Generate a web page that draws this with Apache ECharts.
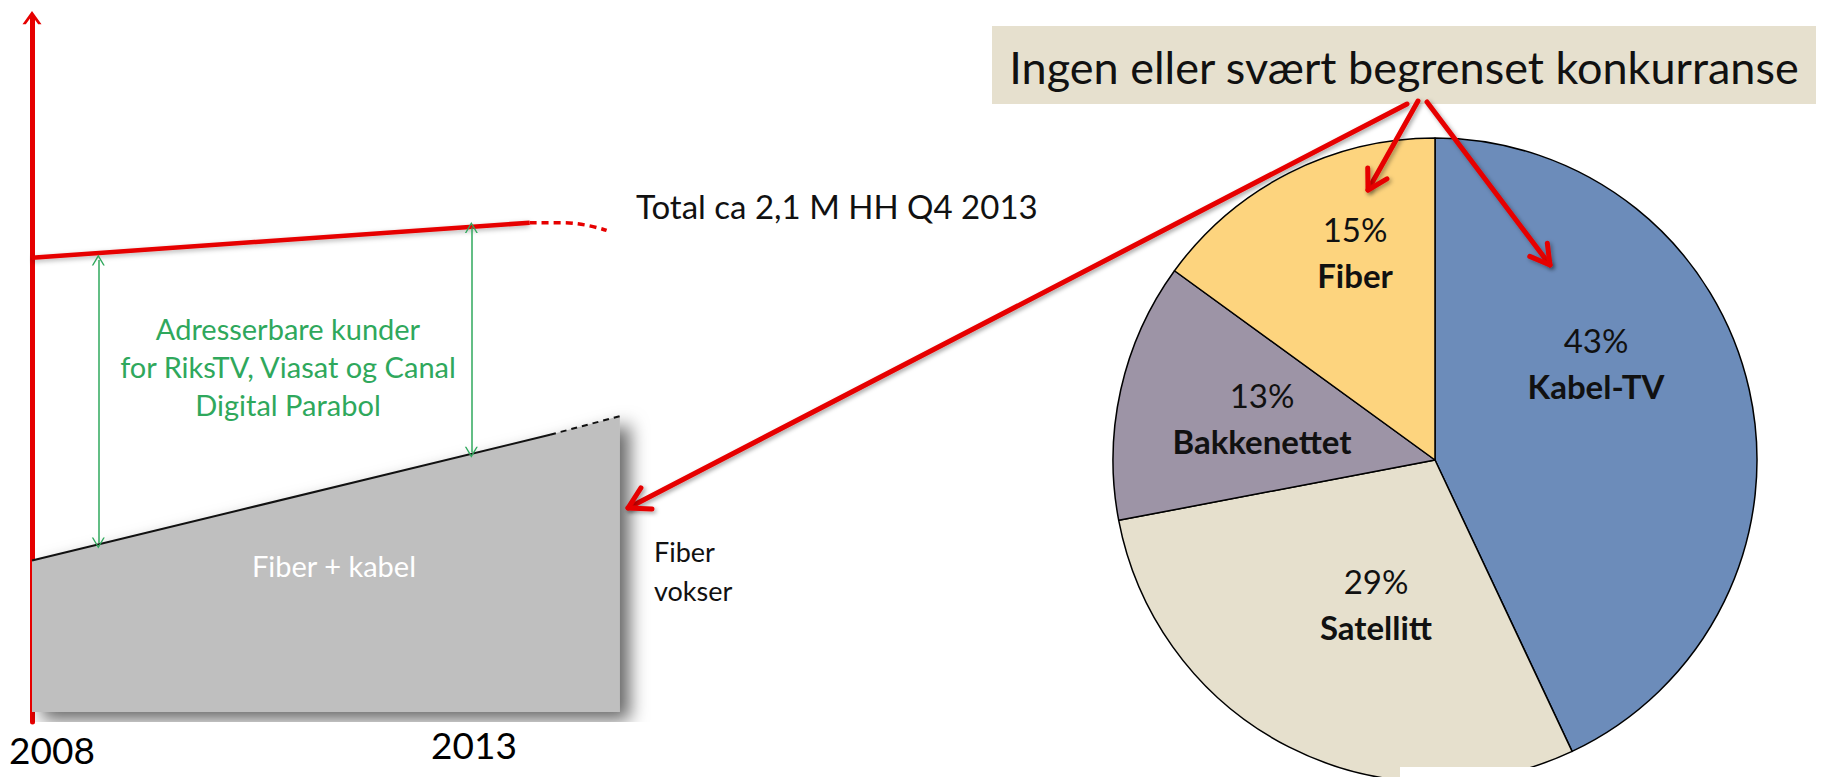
<!DOCTYPE html>
<html><head><meta charset="utf-8">
<script src="https://cdn.jsdelivr.net/npm/echarts@6/dist/echarts.min.js"></script>
<style>html,body{margin:0;padding:0;background:#fff;overflow:hidden}#c{width:1837px;height:777px}</style>
</head><body><div id="c"></div>
<script>
// ---------------- data ----------------
const yearTicks = [2008, 2013];
const totalSolidYears = [2008, 2013.63];
const totalSolidValues = [1.95, 2.10];
const totalDashYears = [2013.63, 2014.0, 2014.50];
const totalDashValues = [2.10, 2.10, 2.067];
const fiberSolidYears = [2008, 2013.86];
const fiberSolidValues = [0.65, 1.19];
const fiberDashYears = [2013.86, 2014.65];
const fiberDashValues = [1.19, 1.27];
const gapYears = [2008.75, 2012.97];
const gapTop = [1.94, 2.08];
const gapBottom = [0.725, 1.115];
const pieNames = ['Kabel-TV', 'Satellitt', 'Bakkenettet', 'Fiber'];
const pieValues = [43, 29, 13, 15];

// ---------------- style / layout ----------------
const FONT = 'Lato, "Liberation Sans", sans-serif';
const RED = '#e60000';
const GREEN = '#2fa85c';
const pieColors = ['#6c8cba', '#e6e0cd', '#9d94a6', '#fdd47e'];
const pieLabelPos = [[1596, 363], [1376, 604], [1262, 418], [1355, 252]];
const chevronUp = 'path://M0,14 L10,0 L20,14 L16.5,14 L10,5 L3.5,14 Z';
const thinChevron = 'path://M0,10 L6,0 L12,10 L10.6,10 L6,2.4 L1.4,10 Z';

const zip = (xs, ys) => xs.map((x, i) => [x, ys[i]]);

function arrow(from, tip, len) {
  const dx = tip[0] - from[0], dy = tip[1] - from[1];
  const d = Math.hypot(dx, dy), ux = dx / d, uy = dy / d;
  const a = 30 * Math.PI / 180;
  const w = s => [tip[0] - len * (ux * Math.cos(s * a) - uy * Math.sin(s * a)),
                  tip[1] - len * (ux * Math.sin(s * a) + uy * Math.cos(s * a))];
  const st = { stroke: RED, lineWidth: 5, fill: null, lineCap: 'round', lineJoin: 'round',
    shadowBlur: 4, shadowColor: 'rgba(0,0,0,0.35)', shadowOffsetX: 2, shadowOffsetY: 2 };
  return [
    { type: 'polyline', z: 100, shape: { points: [from, tip] }, style: st },
    { type: 'polyline', z: 100, shape: { points: [w(1), tip, w(-1)] }, style: st }
  ];
}

const chart = echarts.init(document.getElementById('c'), null, { renderer: 'svg' });

const fiberAll = zip(fiberSolidYears, fiberSolidValues).concat(zip(fiberDashYears, fiberDashValues).slice(1));

chart.setOption({
  animation: false,
  backgroundColor: '#ffffff',
  grid: { left: 32, top: 17.7, bottom: 55, width: 707.2, containLabel: false },
  xAxis: {
    type: 'value', min: 2008, max: 2016, interval: 5,
    axisLine: { show: false, onZero: false }, axisTick: { show: false }, splitLine: { show: false },
    axisLabel: {
      showMaxLabel: false, margin: 4, color: '#000', fontFamily: FONT, fontSize: 37,
      formatter: v => (v === yearTicks[0] ? '{a|' + v + '}' : (yearTicks.indexOf(v) >= 0 ? '{b|' + v + '}' : '')),
      rich: {
        a: { fontFamily: FONT, fontSize: 37, color: '#000', padding: [5, 0, 0, 40] },
        b: { fontFamily: FONT, fontSize: 37, color: '#000' }
      }
    }
  },
  yAxis: {
    type: 'value', min: -0.043, max: 2.98,
    axisLine: { show: true, onZero: false, symbol: ['none', chevronUp], symbolSize: [19, 15],
      lineStyle: { color: RED, width: 5 } },
    axisTick: { show: false }, axisLabel: { show: false }, splitLine: { show: false }
  },
  series: [
    { type: 'line', name: 'Fiber + kabel', data: fiberAll, symbol: 'none', z: 1,
      lineStyle: { width: 0 },
      areaStyle: { origin: 0, color: '#bfbfbf', opacity: 1, shadowBlur: 18, shadowColor: 'rgba(0,0,0,0.6)', shadowOffsetX: 10, shadowOffsetY: 8 } },
    { type: 'line', data: zip(fiberSolidYears, fiberSolidValues), symbol: 'none', z: 3,
      lineStyle: { color: '#111', width: 2 } },
    { type: 'line', data: zip(fiberDashYears, fiberDashValues), symbol: 'none', z: 3,
      lineStyle: { color: '#111', width: 2, type: [6, 5] } },
    { type: 'line', name: 'Total', data: zip(totalSolidYears, totalSolidValues), symbol: 'none', z: 4,
      lineStyle: { color: RED, width: 4.5, shadowBlur: 5, shadowColor: 'rgba(0,0,0,0.3)', shadowOffsetY: 2 },
      markLine: {
        silent: true, symbol: [thinChevron, thinChevron], symbolSize: [13, 11],
        label: { show: false },
        lineStyle: { color: GREEN, width: 1.5, type: 'solid' },
        data: gapYears.map((x, i) => [{ coord: [x, gapTop[i]] }, { coord: [x, gapBottom[i]] }])
      } },
    { type: 'line', data: zip(totalDashYears, totalDashValues), symbol: 'none', smooth: true, z: 4,
      lineStyle: { color: RED, width: 3.5, type: [7, 5] } },
    { type: 'pie', center: [1435, 460], radius: 322, startAngle: 90, clockwise: true,
      color: pieColors,
      itemStyle: { borderColor: '#000', borderWidth: 1.5 },
      label: {
        show: true, position: 'inside',
        formatter: '{p|{c}%}\n{n|{b}}',
        rich: {
          p: { fontFamily: FONT, fontSize: 33, color: '#111', lineHeight: 46, align: 'center' },
          n: { fontFamily: FONT, fontSize: 33, fontWeight: 'bold', color: '#111', lineHeight: 46, align: 'center' }
        }
      },
      labelLine: { show: false },
      labelLayout: p => ({ x: pieLabelPos[p.dataIndex][0], y: pieLabelPos[p.dataIndex][1], align: 'center', verticalAlign: 'middle' }),
      data: pieNames.map((n, i) => ({ name: n, value: pieValues[i] }))
    }
  ],
  graphic: [
    { type: 'rect', z: 50, shape: { x: 992, y: 26, width: 824, height: 78 }, style: { fill: '#e6e0ce' } },
    { type: 'text', z: 51, x: 1404, y: 67, style: { text: 'Ingen eller svært begrenset konkurranse',
      fontFamily: FONT, fontSize: 45, fill: '#111', align: 'center', verticalAlign: 'middle' } },
    { type: 'text', z: 51, x: 636, y: 206, style: { text: 'Total ca 2,1 M HH Q4 2013',
      fontFamily: FONT, fontSize: 33, fill: '#111', align: 'left', verticalAlign: 'middle' } },
    { type: 'text', z: 51, x: 288, y: 366, style: { text: 'Adresserbare kunder\nfor RiksTV, Viasat og Canal\nDigital Parabol',
      fontFamily: FONT, fontSize: 29, lineHeight: 38, fill: GREEN, align: 'center', verticalAlign: 'middle' } },
    { type: 'text', z: 51, x: 334, y: 565, style: { text: 'Fiber + kabel',
      fontFamily: FONT, fontSize: 29, fill: '#ffffff', align: 'center', verticalAlign: 'middle' } },
    { type: 'text', z: 51, x: 654, y: 571, style: { text: 'Fiber\nvokser',
      fontFamily: FONT, fontSize: 27, lineHeight: 39, fill: '#111', align: 'left', verticalAlign: 'middle' } },
    { type: 'rect', z: 60, shape: { x: 1400, y: 767, width: 176, height: 12 }, style: { fill: '#ffffff' } }
  ]
    .concat(arrow([1407, 104], [628, 508], 24))
    .concat(arrow([1418, 101], [1368, 190], 22))
    .concat(arrow([1427, 102], [1550, 265], 22))
});
</script></body></html>
